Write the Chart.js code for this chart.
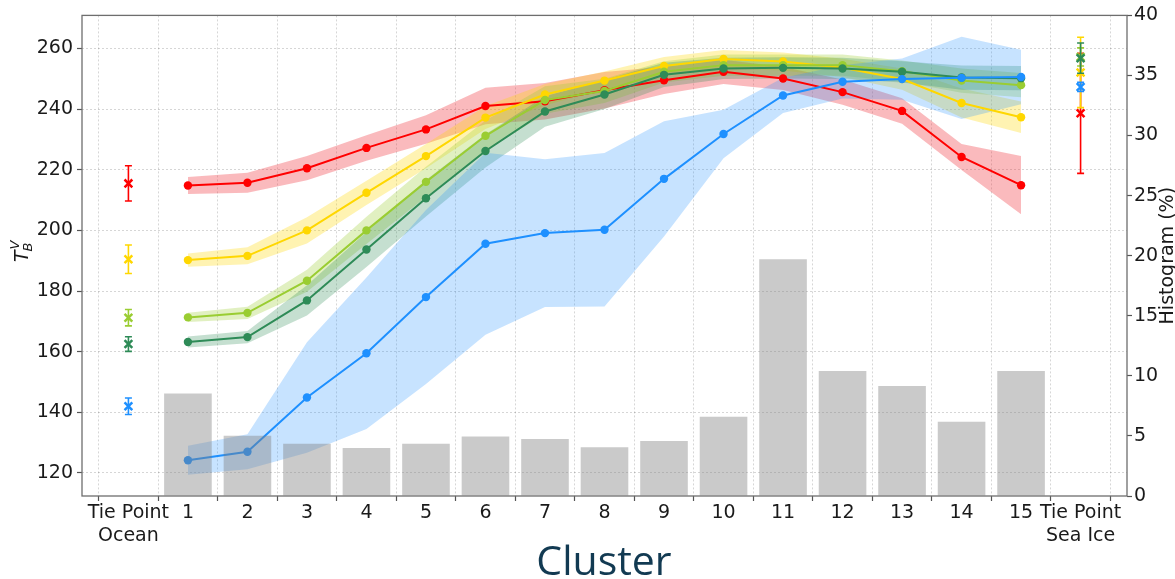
<!DOCTYPE html>
<html><head><meta charset="utf-8">
<script src="https://cdn.jsdelivr.net/npm/chart.js@4.4.1/dist/chart.umd.min.js"></script>
<style>html,body{margin:0;padding:0;background:#fff;} #wrap{width:1175px;height:579px;position:relative;}</style>
</head><body><div id="wrap"><canvas id="c"></canvas></div>
<script>
// ---------- data ----------
const clusters = [1,2,3,4,5,6,7,8,9,10,11,12,13,14,15];
const xTickValues = [0,1,2,3,4,5,6,7,8,9,10,11,12,13,14,15,16];
const xTickLabels = [['Tie Point','Ocean'],'1','2','3','4','5','6','7','8','9','10','11','12','13','14','15',['Tie Point','Sea Ice']];
const yTicks = [120,140,160,180,200,220,240,260];
const y2Ticks = [0,5,10,15,20,25,30,35,40];
const histogram = [8.54,5.02,4.35,3.99,4.35,4.96,4.74,4.05,4.57,6.6,19.7,10.4,9.15,6.18,10.4];

const redMean = [214.8,215.7,220.5,227.2,233.3,241.0,242.6,246.2,249.5,252.3,250.1,245.6,239.4,224.2,214.9];
const redStd  = [2.8,3.3,4.0,4.2,4.7,6.0,6.0,6.0,4.5,4.0,3.8,4.2,4.2,4.3,9.6];
const yellowMean = [190.2,191.6,200.0,212.4,224.5,237.2,244.8,249.4,254.2,256.5,255.7,253.6,249.9,242.0,237.3];
const yellowStd  = [2.2,2.8,4.3,4.0,4.0,3.8,3.5,3.0,3.0,3.0,3.0,3.0,3.5,4.8,5.2];
const ygreenMean = [171.3,172.8,183.4,200.0,216.0,231.2,243.0,246.0,252.3,254.5,254.5,254.5,252.5,249.4,247.9];
const ygreenStd  = [1.5,2.0,3.6,4.5,5.0,5.0,4.5,4.0,3.5,3.5,3.5,3.5,3.5,4.0,4.0];
const dgreenMean = [163.2,164.8,176.9,193.7,210.6,226.2,239.2,244.8,251.3,253.4,253.6,253.4,252.3,250.4,250.2];
const dgreenStd  = [1.8,2.0,5.0,5.8,6.0,5.5,5.0,4.8,4.0,3.5,3.5,3.5,3.5,4.0,4.0];
const blueMean = [124.2,127.0,144.9,159.5,178.0,195.6,199.1,200.2,217.0,231.8,244.5,249.0,249.9,250.3,250.6];
const blueStd  = [4.8,5.8,18.2,25.0,28.7,30.0,24.4,25.3,19.0,8.0,5.8,5.5,6.8,13.6,9.0];

// tie points: order red, yellow, yellowgreen, darkgreen, blue
const tieOceanMean = [215.5,190.5,171.2,162.5,142.0];
const tieOceanErr  = [5.8,4.7,2.7,2.4,2.7];
const tieIceMean   = [238.6,252.1,257.2,256.8,247.3];
const tieIceErr    = [19.8,11.6,3.0,5.0,1.5];

const seriesColors = ['#ff0000','#ffd700','#9acd32','#2e8b57','#1e90ff'];
const bandColors   = ['rgba(240,40,50,0.32)','rgba(255,215,0,0.3)','rgba(154,205,50,0.3)','rgba(46,139,87,0.28)','rgba(30,144,255,0.25)'];
const means = [redMean,yellowMean,ygreenMean,dgreenMean,blueMean];
const stds  = [redStd,yellowStd,ygreenStd,dgreenStd,blueStd];

// ---------- datasets ----------
const datasets = [];
datasets.push({
  type:'bar', label:'Histogram', yAxisID:'y2', xAxisID:'x',
  data: clusters.map((c,i)=>({x:c,y:histogram[i]})),
  backgroundColor:'rgba(128,128,128,0.42)', borderWidth:0,
  barPercentage:0.8, categoryPercentage:1.0, order:0
});
for (let s=0;s<5;s++){
  datasets.push({
    type:'line', label:'tie'+s, yAxisID:'y', xAxisID:'x',
    data:[{x:0,y:tieOceanMean[s]},{x:16,y:tieIceMean[s]}],
    errors:[tieOceanErr[s],tieIceErr[s]], errColor:seriesColors[s],
    showLine:false, pointStyle:'crossRot', pointRadius:5.5, pointBorderWidth:2.5,
    pointBorderColor:seriesColors[s], pointBackgroundColor:seriesColors[s],
    order: 5 - s
  });
}
for (let s=0;s<5;s++){
  datasets.push({
    type:'line', label:'mean'+s, yAxisID:'y', xAxisID:'x',
    data: clusters.map((c,i)=>({x:c,y:means[s][i]})),
    borderColor:seriesColors[s], borderWidth:2, pointRadius:4.2,
    pointBackgroundColor:seriesColors[s], pointBorderColor:seriesColors[s], pointBorderWidth:0,
    fill:false, tension:0, order: 15 - s
  });
}
for (let s=0;s<5;s++){
  datasets.push({
    type:'line', label:'upper'+s, yAxisID:'y', xAxisID:'x',
    data: clusters.map((c,i)=>({x:c,y:means[s][i]+stds[s][i]})),
    borderWidth:0, pointRadius:0, backgroundColor:bandColors[s], fill:'+1', tension:0,
    order: 30 - 2*s
  });
  datasets.push({
    type:'line', label:'lower'+s, yAxisID:'y', xAxisID:'x',
    data: clusters.map((c,i)=>({x:c,y:means[s][i]-stds[s][i]})),
    borderWidth:0, pointRadius:0, fill:false, tension:0,
    order: 30 - 2*s
  });
}

// ---------- plugins ----------
const errorBars = {
  id:'errorBars',
  beforeDatasetDraw(chart,args){
    const ds = chart.data.datasets[args.index];
    if(!ds.errors) return;
    const ctx = chart.ctx, x = chart.scales.x, y = chart.scales.y;
    ctx.save();
    ctx.strokeStyle = ds.errColor; ctx.lineWidth = 1.6;
    ds.data.forEach((p,i)=>{
      const px = x.getPixelForValue(p.x);
      const top = y.getPixelForValue(p.y + ds.errors[i]);
      const bot = y.getPixelForValue(p.y - ds.errors[i]);
      ctx.beginPath();
      ctx.moveTo(px,top); ctx.lineTo(px,bot);
      ctx.moveTo(px-3.5,top); ctx.lineTo(px+3.5,top);
      ctx.moveTo(px-3.5,bot); ctx.lineTo(px+3.5,bot);
      ctx.stroke();
    });
    ctx.restore();
  }
};
const decorations = {
  id:'decorations',
  afterDraw(chart){
    const ctx = chart.ctx, a = chart.chartArea;
    ctx.save();
    ctx.strokeStyle = '#6e6e6e'; ctx.lineWidth = 1.3;
    ctx.strokeRect(a.left, a.top, a.right-a.left, a.bottom-a.top);
    // left title T_B^V
    ctx.fillStyle = '#1a1a1a';
    ctx.translate(28, 262); ctx.rotate(-Math.PI/2);
    ctx.textBaseline = 'alphabetic'; ctx.textAlign = 'left';
    ctx.font = 'italic 19px "DejaVu Sans"';
    ctx.fillText('T',0,0);
    const w = ctx.measureText('T').width;
    ctx.font = 'italic 13px "DejaVu Sans"';
    ctx.fillText('B', w-1, 4);
    ctx.fillText('V', w+1, -9);
    ctx.restore();
    // right title
    ctx.save();
    ctx.fillStyle = '#1a1a1a';
    ctx.translate(1173, (a.top+a.bottom)/2); ctx.rotate(-Math.PI/2);
    ctx.textAlign='center'; ctx.textBaseline='alphabetic';
    ctx.font = '19px "DejaVu Sans"';
    ctx.fillText('Histogram (%)',0,0);
    ctx.restore();
    // bottom title
    ctx.save();
    ctx.fillStyle = '#123a52';
    ctx.font = '41px "Open Sans"';
    ctx.textAlign='center'; ctx.textBaseline='alphabetic';
    ctx.fillText('Cluster', 604, 575);
    ctx.restore();
  }
};

Chart.defaults.font.family = '"DejaVu Sans"';
Chart.defaults.font.size = 19;
Chart.defaults.color = '#1a1a1a';

const gridStyle = {color:'rgba(0,0,0,0.16)', lineWidth:1, tickColor:'#555', tickLength:5, tickWidth:1.2, tickBorderDash:[]};
const dashedBorder = {display:false, dash:[2,2]};

new Chart(document.getElementById('c'), {
  type:'line',
  data:{datasets},
  options:{
    responsive:true, maintainAspectRatio:false, animation:false, events:[],
    layout:{padding:{top:15,left:0,right:0,bottom:0}},
    plugins:{legend:{display:false}, tooltip:{enabled:false}},
    scales:{
      x:{type:'linear', min:-0.78, max:16.78, offset:false,
        afterBuildTicks(s){ s.ticks = xTickValues.map(v=>({value:v})); },
        afterFit(s){ s.height = 83; },
        ticks:{autoSkip:false, maxRotation:0, padding:1, callback:(v,i)=>xTickLabels[i]},
        grid:Object.assign({},gridStyle), border:Object.assign({},dashedBorder)},
      y:{type:'linear', position:'left', min:112.4, max:270.9,
        afterBuildTicks(s){ s.ticks = yTicks.map(v=>({value:v})); },
        afterFit(s){ s.width = 82; },
        ticks:{padding:4},
        grid:Object.assign({},gridStyle), border:Object.assign({},dashedBorder)},
      y2:{type:'linear', position:'right', min:0, max:40,
        afterBuildTicks(s){ s.ticks = y2Ticks.map(v=>({value:v})); },
        afterFit(s){ s.width = 48; },
        ticks:{padding:2},
        grid:{drawOnChartArea:false, tickColor:'#555', tickLength:5, tickWidth:1.2}, border:{display:false}}
    }
  },
  plugins:[errorBars, decorations]
});
</script></body></html>
